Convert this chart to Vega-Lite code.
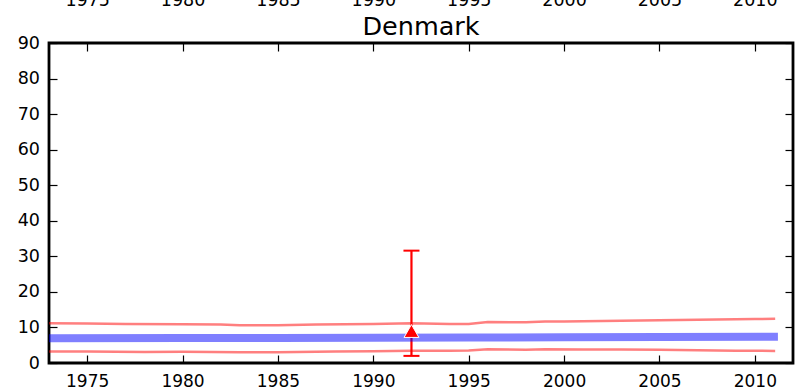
{
  "$schema": "https://vega.github.io/schema/vega-lite/v6.json",
  "width": 744,
  "height": 320,
  "autosize": {"type": "none"},
  "padding": {"left": 49, "top": 43, "right": 10, "bottom": 28},
  "title": {"text": "Denmark", "fontSize": 25.5, "font": "DejaVu Sans", "fontWeight": "normal", "color": "black", "baseline": "alphabetic", "offset": -69, "anchor": "middle"},
  "datasets": {
    "bounds": [
      {"series": "upper", "year": 1973, "value": 11.2},
      {"series": "upper", "year": 1975, "value": 11.1},
      {"series": "upper", "year": 1977, "value": 11.0},
      {"series": "upper", "year": 1980, "value": 10.9},
      {"series": "upper", "year": 1982, "value": 10.85},
      {"series": "upper", "year": 1983, "value": 10.65},
      {"series": "upper", "year": 1985, "value": 10.65},
      {"series": "upper", "year": 1987, "value": 10.8},
      {"series": "upper", "year": 1990, "value": 10.95},
      {"series": "upper", "year": 1992, "value": 11.15},
      {"series": "upper", "year": 1994, "value": 11.0},
      {"series": "upper", "year": 1995, "value": 11.0},
      {"series": "upper", "year": 1996, "value": 11.5},
      {"series": "upper", "year": 1998, "value": 11.45},
      {"series": "upper", "year": 1999, "value": 11.65},
      {"series": "upper", "year": 2000, "value": 11.65},
      {"series": "upper", "year": 2002, "value": 11.8},
      {"series": "upper", "year": 2004, "value": 11.95},
      {"series": "upper", "year": 2006, "value": 12.1},
      {"series": "upper", "year": 2008, "value": 12.2},
      {"series": "upper", "year": 2010, "value": 12.35},
      {"series": "upper", "year": 2011, "value": 12.45},
      {"series": "lower", "year": 1973, "value": 3.2},
      {"series": "lower", "year": 1975, "value": 3.2},
      {"series": "lower", "year": 1978, "value": 3.1},
      {"series": "lower", "year": 1980, "value": 3.15},
      {"series": "lower", "year": 1983, "value": 3.0},
      {"series": "lower", "year": 1985, "value": 3.05},
      {"series": "lower", "year": 1988, "value": 3.2},
      {"series": "lower", "year": 1990, "value": 3.3},
      {"series": "lower", "year": 1992, "value": 3.45},
      {"series": "lower", "year": 1994, "value": 3.45},
      {"series": "lower", "year": 1995, "value": 3.5},
      {"series": "lower", "year": 1996, "value": 3.85},
      {"series": "lower", "year": 1998, "value": 3.7},
      {"series": "lower", "year": 1999, "value": 3.85},
      {"series": "lower", "year": 2001, "value": 3.8},
      {"series": "lower", "year": 2003, "value": 3.8},
      {"series": "lower", "year": 2005, "value": 3.75},
      {"series": "lower", "year": 2007, "value": 3.6},
      {"series": "lower", "year": 2009, "value": 3.45},
      {"series": "lower", "year": 2011, "value": 3.4}
    ],
    "mid": [
      {"year": 1973, "value": 6.95},
      {"year": 1980, "value": 7.0},
      {"year": 1985, "value": 7.05},
      {"year": 1990, "value": 7.1},
      {"year": 1995, "value": 7.15},
      {"year": 2000, "value": 7.25},
      {"year": 2005, "value": 7.3},
      {"year": 2011, "value": 7.4}
    ],
    "err": [
      {"year": 1992, "value": 9.0, "lo": 2.0, "hi": 31.6}
    ]
  },
  "layer": [
    {
      "data": {"name": "bounds"},
      "mark": {"type": "line", "color": "red", "opacity": 0.5, "strokeWidth": 2.5, "strokeCap": "square", "clip": true},
      "encoding": {
        "x": {"field": "year", "type": "quantitative", "scale": {"domain": [1973, 2012], "nice": false, "zero": false},
              "axis": {"orient": "bottom", "values": [1975, 1980, 1985, 1990, 1995, 2000, 2005, 2010], "format": "d", "labelPadding": 18.5, "labelBaseline": "top", "labelFontSize": 17}},
        "y": {"field": "value", "type": "quantitative", "scale": {"domain": [0, 90], "nice": false, "zero": true},
              "axis": {"orient": "left", "values": [0, 10, 20, 30, 40, 50, 60, 70, 80, 90], "labelPadding": 17.5, "labelBaseline": "middle"}},
        "detail": {"field": "series"}
      }
    },
    {
      "data": {"name": "err"},
      "mark": {"type": "rule", "color": "red", "strokeWidth": 2.2},
      "encoding": {
        "x": {"field": "year", "type": "quantitative", "scale": {"domain": [1973, 2012], "nice": false, "zero": false},
              "axis": {"orient": "top", "values": [1975, 1980, 1985, 1990, 1995, 2000, 2005, 2010], "format": "d", "labelPadding": 45.5, "labelBaseline": "alphabetic"}},
        "y": {"field": "lo", "type": "quantitative", "scale": {"domain": [0, 90], "nice": false},
              "axis": {"orient": "right", "values": [0, 10, 20, 30, 40, 50, 60, 70, 80, 90], "labels": false}},
        "y2": {"field": "hi"}
      }
    },
    {
      "data": {"name": "err"},
      "mark": {"type": "tick", "orient": "horizontal", "color": "red", "size": 16, "thickness": 2, "opacity": 1},
      "encoding": {
        "x": {"field": "year", "type": "quantitative", "axis": null},
        "y": {"field": "lo", "type": "quantitative", "axis": null}
      }
    },
    {
      "data": {"name": "err"},
      "mark": {"type": "tick", "orient": "horizontal", "color": "red", "size": 16, "thickness": 2, "opacity": 1},
      "encoding": {
        "x": {"field": "year", "type": "quantitative", "axis": null},
        "y": {"field": "hi", "type": "quantitative", "axis": null}
      }
    },
    {
      "data": {"name": "mid"},
      "mark": {"type": "line", "color": "blue", "opacity": 0.5, "strokeWidth": 8, "strokeCap": "square", "clip": true},
      "encoding": {
        "x": {"field": "year", "type": "quantitative", "axis": null},
        "y": {"field": "value", "type": "quantitative", "axis": null}
      }
    },
    {
      "data": {"name": "err"},
      "mark": {"type": "point", "shape": "triangle-up", "filled": true, "fill": "red", "stroke": "white", "strokeWidth": 1, "size": 220, "opacity": 1},
      "encoding": {
        "x": {"field": "year", "type": "quantitative", "axis": null},
        "y": {"field": "value", "type": "quantitative", "axis": null}
      }
    }
  ],
  "resolve": {"axis": {"x": "independent", "y": "independent"}},
  "config": {
    "background": "white",
    "view": {"stroke": "black", "strokeWidth": 2.8},
    "axis": {
      "domain": false,
      "grid": false,
      "title": null,
      "labelFont": "DejaVu Sans",
      "labelFontSize": 17.5,
      "labelColor": "black",
      "tickColor": "black",
      "tickWidth": 1.2,
      "tickSize": -8,
      "labelOverlap": false,
      "labelFlush": false
    }
  }
}
